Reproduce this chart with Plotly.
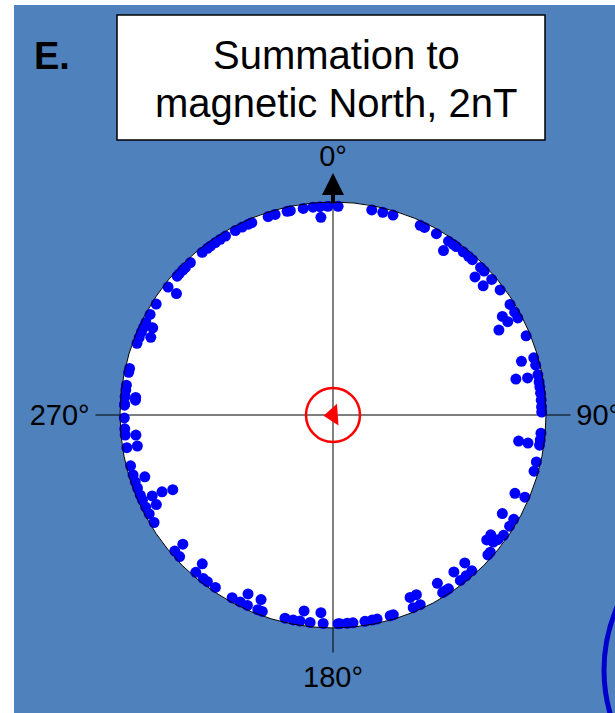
import plotly.graph_objects as go

# direction of each summed vector (deg clockwise from magnetic North) and normalised length
directions = [
    354.5, 356.4, 358.6, 1.4, 356.5, 351.8, 347.3, 348.2, 341.9, 343.9,
    336.1, 337.1, 334.2, 332.1, 329.0, 327.3, 325.7, 324.1, 323.0, 321.2,
    316.9, 315.0, 314.0, 312.5, 311.7, 307.8, 307.8, 302.1, 298.8, 296.3,
    294.8, 293.4, 291.8, 290.1, 295.8, 293.1, 282.9, 281.8, 278.2, 276.9,
    275.1, 273.0, 275.1,
    10.7, 13.8, 16.7, 24.7, 26.0, 29.7, 33.6, 35.2, 36.2, 33.9,
    38.6, 40.5, 41.9, 45.0, 46.4, 49.5, 45.8, 49.3, 53.2, 58.0,
    59.8, 61.9, 60.5, 62.3, 62.9, 67.7, 74.1, 76.2, 78.9, 74.1,
    78.9, 79.2, 80.9, 82.3, 84.0, 85.9, 87.8, 89.2,
    95.0, 96.9, 98.3, 98.0, 98.2, 103.0, 105.6, 113.3, 113.2, 120.2,
    120.0, 122.2, 127.2, 129.1, 128.4, 127.1, 125.2, 132.1, 131.1, 138.3,
    142.4, 142.4, 140.4, 138.3, 148.2, 148.3, 147.4, 146.4, 157.1, 155.1,
    157.4, 155.3, 164.1, 163.2, 171.2, 169.2, 167.8, 178.1, 176.1, 174.5,
    178.6, 182.7, 186.3, 189.1, 191.0, 193.3, 183.5, 188.4, 199.8, 201.1,
    204.2, 206.4, 201.3, 205.4, 208.9, 214.3, 217.0, 218.4, 221.1, 221.3,
    227.3, 229.3, 229.3, 239.0, 241.7, 243.8, 245.9, 247.4, 249.5, 251.3,
    253.3, 251.8, 245.9, 243.1, 245.8, 245.0, 255.9, 261.0, 261.0, 264.2,
    264.5, 266.2, 269.2, 272.7, 274.3,
]
lengths = [
    0.98, 0.98, 0.98, 0.98, 0.93, 0.98, 0.98, 0.98, 0.98, 0.98,
    0.98, 0.98, 0.98, 0.98, 0.98, 0.98, 0.98, 0.98, 0.98, 0.98,
    0.98, 0.98, 0.98, 0.98, 0.98, 0.98, 0.93, 0.98, 0.98, 0.98,
    0.98, 0.98, 0.98, 0.98, 0.94, 0.93, 0.98, 0.98, 0.98, 0.98,
    0.98, 0.98, 0.93,
    0.98, 0.98, 0.98, 0.98, 0.98, 0.98, 0.98, 0.98, 0.98, 0.93,
    0.98, 0.98, 0.98, 0.98, 0.98, 0.98, 0.93, 0.93, 0.98, 0.98,
    0.92, 0.93, 0.98, 0.98, 0.875, 0.98, 0.98, 0.98, 0.98, 0.92,
    0.875, 0.93, 0.98, 0.98, 0.98, 0.98, 0.98, 0.98,
    0.98, 0.98, 0.98, 0.88, 0.925, 0.98, 0.98, 0.93, 0.98, 0.92,
    0.98, 0.98, 0.93, 0.93, 0.96, 0.97, 0.98, 0.98, 0.98, 0.93,
    0.93, 0.98, 0.98, 0.98, 0.93, 0.98, 0.98, 0.98, 0.93, 0.93,
    0.98, 0.98, 0.98, 0.98, 0.98, 0.98, 0.98, 0.98, 0.98, 0.98,
    0.98, 0.98, 0.98, 0.98, 0.98, 0.98, 0.93, 0.93, 0.98, 0.98,
    0.98, 0.98, 0.93, 0.93, 0.98, 0.98, 0.98, 0.98, 0.98, 0.93,
    0.98, 0.98, 0.93, 0.98, 0.98, 0.98, 0.98, 0.98, 0.98, 0.98,
    0.98, 0.93, 0.93, 0.93, 0.88, 0.83, 0.98, 0.98, 0.93, 0.93,
    0.98, 0.98, 0.98, 0.98, 0.93,
]

# resultant (mean) vector, drawn as the red arrowhead at the centre
mean_direction = [266]
mean_length = [0.0]

tick_angles = [0, 90, 180, 270]
tick_labels = ["0°", "90°", "180°", "270°"]

title_lines = ["Summation to", "magnetic North, 2nT"]
panel_label = "E."

W, H = 615, 713
BG_BLUE = "#4f81bd"
FONT = "Liberation Sans, Arial, sans-serif"

# circle centre (333, 415) px, radius 213 px
cx, cy, R = 333, 415, 213

fig = go.Figure()

fig.add_trace(go.Scatterpolar(
    theta=directions, r=lengths, mode="markers",
    marker=dict(color="#0000ff", size=11, line=dict(width=0)),
    hoverinfo="skip", showlegend=False,
))

# confidence circle around the resultant
fig.add_trace(go.Scatterpolar(
    theta=[0], r=[0], mode="markers",
    marker=dict(symbol="circle-open", size=54, color="#ff0000", line=dict(width=2.5, color="#ff0000")),
    hoverinfo="skip", showlegend=False,
))
fig.add_trace(go.Scatterpolar(
    theta=mean_direction, r=mean_length, mode="markers",
    marker=dict(symbol="triangle-up", size=19, color="#ff0000", angle=mean_direction[0]),
    hoverinfo="skip", showlegend=False,
))

fig.update_layout(
    width=W, height=H,
    margin=dict(l=0, r=0, t=0, b=0),
    paper_bgcolor="white",
    font=dict(family=FONT, color="black"),
    polar=dict(
        domain=dict(x=[(cx - R) / W, (cx + R) / W], y=[(H - cy - R) / H, (H - cy + R) / H]),
        bgcolor="white",
        radialaxis=dict(range=[0, 1], visible=False, showgrid=False),
        angularaxis=dict(
            rotation=90, direction="clockwise",
            tickmode="array", tickvals=tick_angles, ticktext=tick_labels,
            ticks="outside", ticklen=24, tickwidth=1, tickcolor="black",
            showgrid=True, gridcolor="black", gridwidth=1,
            showline=True, linecolor="black", linewidth=1,
            tickfont=dict(size=29, color="black", family=FONT),
        ),
    ),
)

shapes = [
    # slide background
    dict(type="rect", xref="paper", yref="paper", x0=14 / W, x1=1, y0=0, y1=(H - 5) / H,
         fillcolor=BG_BLUE, line=dict(width=0), layer="below"),
    # title box
    dict(type="rect", xref="paper", yref="paper", x0=117 / W, x1=545 / W,
         y0=(H - 140) / H, y1=(H - 15) / H,
         fillcolor="white", line=dict(color="black", width=1.5), layer="below"),
    # edge of the neighbouring panel
    dict(type="circle", xref="paper", yref="paper", x0=604 / W, x1=920 / W,
         y0=(H - 670 - 158) / H, y1=(H - 670 + 158) / H,
         line=dict(color="#0000cc", width=5), layer="below"),
]
fig.update_layout(shapes=shapes)

for line_text, y_px in zip(title_lines, [55, 103]):
    fig.add_annotation(
        xref="paper", yref="paper", x=336 / W, y=(H - y_px) / H,
        xanchor="center", yanchor="middle",
        text=line_text, showarrow=False,
        font=dict(size=40, color="black", family=FONT),
    )
fig.add_annotation(
    xref="paper", yref="paper", x=52 / W, y=(H - 56) / H,
    xanchor="center", yanchor="middle",
    text="<b>" + panel_label + "</b>", showarrow=False,
    font=dict(size=38, color="black", family=FONT),
)
# north arrow
fig.add_annotation(
    xref="paper", yref="paper", x=cx / W, y=(H - 173) / H,
    ax=0, ay=32, text="", showarrow=True,
    arrowhead=2, arrowsize=1.1, arrowwidth=4, arrowcolor="black",
)

fig.write_html(
    "out.html",
    config={"displayModeBar": False},
    post_script="document.body.style.margin='0';document.body.style.overflow='hidden';",
)
